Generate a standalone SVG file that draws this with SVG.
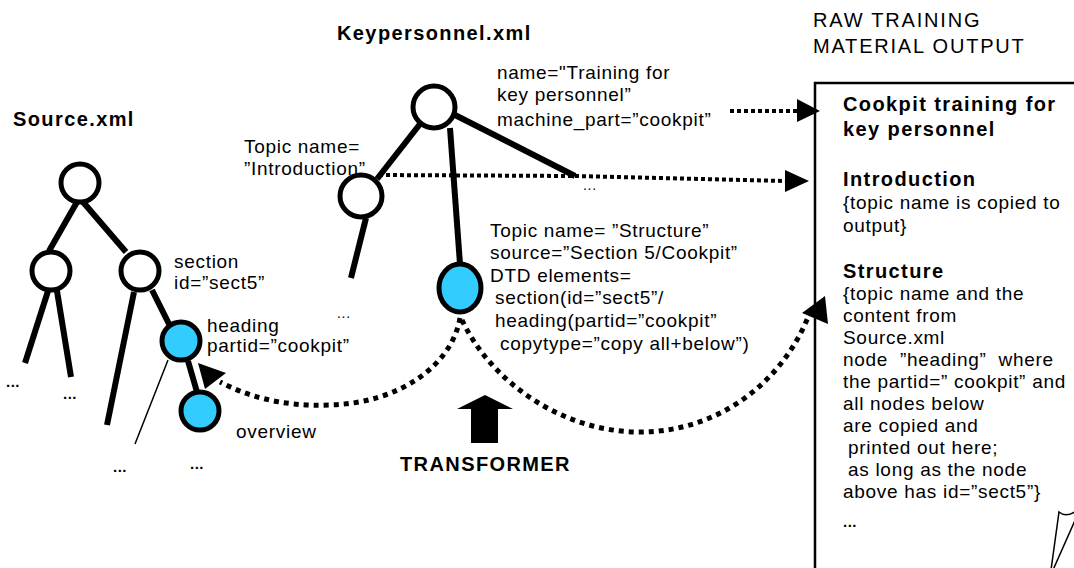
<svg xmlns="http://www.w3.org/2000/svg" width="1074" height="568" viewBox="0 0 1074 568">
<style>
text{font-family:"Liberation Sans",Arial,sans-serif;font-size:19px;fill:#000;letter-spacing:0.7px}
.b{font-weight:bold;font-size:20px;letter-spacing:1.4px}
.h{font-size:20px;letter-spacing:1.8px}
.d{font-weight:bold;font-size:15px;letter-spacing:0.5px}
.t{stroke:#000;stroke-width:6;fill:none;stroke-linecap:butt}
.n{stroke:#000;stroke-width:5;fill:#fff}
.c{stroke:#000;stroke-width:5;fill:#33CCFF}
.dot{stroke:#000;stroke-width:4;fill:none;stroke-dasharray:4 3}
.dash{stroke:#000;stroke-width:5;fill:none;stroke-dasharray:5 5}
</style>
<rect width="1074" height="568" fill="#fff"/>

<g id="source-tree">
<text class="b" x="13" y="126">Source.xml</text>
<line class="t" x1="77" y1="202" x2="49" y2="251"/>
<line class="t" x1="83" y1="202" x2="126" y2="252"/>
<line class="t" x1="48" y1="291" x2="25" y2="363"/>
<line class="t" x1="57" y1="291" x2="71" y2="377"/>
<line class="t" x1="134" y1="292" x2="107" y2="425"/>
<line class="t" x1="152" y1="290" x2="170" y2="326"/>
<line class="t" x1="188" y1="361" x2="197" y2="392"/>
<line stroke="#000" stroke-width="1.5" x1="168" y1="360" x2="135" y2="444"/>
<circle id="src-root" class="n" cx="80" cy="183" r="19"/>
<circle id="src-left" class="n" cx="51" cy="271" r="19"/>
<circle id="src-section" class="n" cx="140" cy="271" r="19"/>
<circle id="src-heading" class="c" cx="181" cy="341" r="19"/>
<circle id="src-overview" class="c" cx="200" cy="411" r="19"/>
<text x="174" y="268">section</text>
<text x="174" y="289">id=”sect5”</text>
<text x="207" y="332">heading</text>
<text x="207" y="352">partid=”cookpit”</text>
<text x="236" y="438">overview</text>
<text class="d" x="6" y="387">...</text>
<text class="d" x="63" y="399">...</text>
<text class="d" x="113" y="472">...</text>
<text class="d" x="190" y="469">...</text>
</g>

<g id="keypersonnel-tree">
<text class="b" x="337" y="40">Keypersonnel.xml</text>
<line class="t" x1="420" y1="124" x2="377" y2="179"/>
<line class="t" x1="450" y1="128" x2="460" y2="264"/>
<line class="t" x1="455" y1="115" x2="575" y2="176"/>
<line class="t" x1="366" y1="218" x2="351" y2="278"/>
<circle id="kp-root" class="n" cx="434" cy="107" r="21"/>
<circle id="kp-intro" class="n" cx="361" cy="196" r="21"/>
<ellipse id="kp-structure" class="c" cx="460" cy="288" rx="21" ry="24"/>
<text x="497" y="79">name="Training for</text>
<text x="497" y="101">key personnel”</text>
<text x="497" y="126">machine_part=”cookpit”</text>
<text x="244" y="153">Topic name=</text>
<text x="244" y="175">”Introduction”</text>
<text x="490" y="237">Topic name= ”Structure”</text>
<text x="490" y="259">source=”Section 5/Cookpit”</text>
<text x="490" y="282">DTD elements=</text>
<text x="495" y="304">section(id=”sect5”/</text>
<text x="495" y="327">heading(partid=”cookpit”</text>
<text x="500" y="350">copytype=”copy all+below”)</text>
<text x="337" y="318" style="font-size:14px">...</text>
<text x="583" y="190" style="font-size:14px">...</text>
</g>

<g id="transformer">
<polygon points="485,395 513,409 498,409 498,443 471,443 471,409 457,409" fill="#000"/>
<text class="b" x="400" y="471">TRANSFORMER</text>
</g>

<g id="output">
<text class="h" x="813" y="27">RAW TRAINING</text>
<text class="h" x="813" y="53">MATERIAL OUTPUT</text>
<path d="M1076,83 H815 V570" stroke="#000" stroke-width="2.5" fill="none"/>
<path d="M1051,570 L1059,512 Q1066,518 1076,511 M1053,570 L1076,518" stroke="#000" stroke-width="1.5" fill="none"/>
<text class="b" x="843" y="111">Cookpit training for</text>
<text class="b" x="843" y="136">key personnel</text>
<text class="b" x="843" y="186">Introduction</text>
<text x="843" y="209">{topic name is copied to</text>
<text x="843" y="232">output}</text>
<text class="b" x="843" y="278">Structure</text>
<text x="843" y="300">{topic name and the</text>
<text x="843" y="322">content from</text>
<text x="843" y="344">Source.xml</text>
<text x="843" y="366" style="white-space:pre">node  ”heading”  where</text>
<text x="843" y="388">the partid=” cookpit” and</text>
<text x="843" y="410">all nodes below</text>
<text x="843" y="432">are copied and</text>
<text x="848" y="454">printed out here;</text>
<text x="848" y="476">as long as the node</text>
<text x="843" y="498">above has id=”sect5”}</text>
<text class="d" x="843" y="527">...</text>
</g>

<g id="connectors">
<line class="dot" x1="730" y1="111" x2="798" y2="111"/>
<polygon points="797,99 820,111 797,122" fill="#000"/>
<path class="dot" d="M379,175 L575,176 L786,181"/>
<polygon points="785,170 809,181 785,192" fill="#000"/>
<path class="dash" d="M460,318 C452,365 400,403 330,405 C280,407 245,395 220,382"/>
<polygon points="198,363 226,373 205,389" fill="#000"/>
<path class="dash" d="M462,320 C490,380 560,432 640,432 C720,432 785,380 810,312"/>
<polygon points="825,296 802,313 828,324" fill="#000"/>
</g>
</svg>
